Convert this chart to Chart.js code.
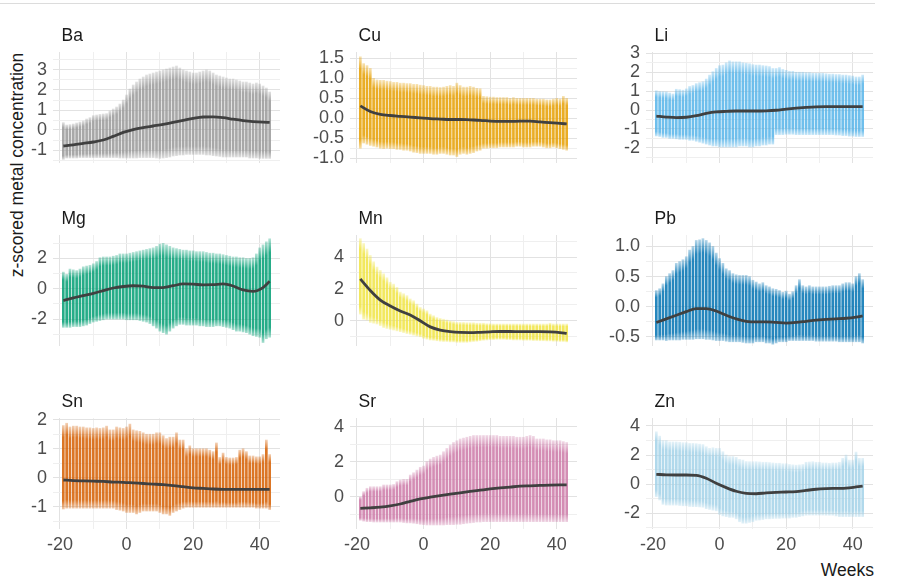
<!DOCTYPE html>
<html>
<head>
<meta charset="utf-8">
<script src="https://cdn.jsdelivr.net/npm/chart.js@4.4.1/dist/chart.umd.min.js"></script>
<style>
  body { margin: 0; background: #fff; width: 899px; height: 587px; position: relative; overflow: hidden;
         font-family: "Liberation Sans", Arial, sans-serif; }
  .rule { position: absolute; left: 0; top: 3px; width: 875px; height: 1px; background: #dcdcdc; }
  .panel { position: absolute; }
  .ttl { position: absolute; font-size: 17.5px; line-height: 17px; color: #1a1a1a; white-space: nowrap; }
  .ylab { position: absolute; left: -112.8px; top: 154.5px; width: 260px; height: 20px; line-height: 20px;
          text-align: center; font-size: 17.5px; color: #1a1a1a; transform: rotate(-90deg); white-space: nowrap; }
  .xlab { position: absolute; right: 25px; top: 561.6px; font-size: 17.5px; line-height: 17px; color: #1a1a1a; }
</style>
</head>
<body>
<div class="rule"></div>
<div class="ylab">z-scored metal concentration</div>
<div class="xlab">Weeks</div>
<script>
// weeks of each stripe (one vertical column of samples per week)
const weeks = [-19, -18, -17, -16, -15, -14, -13, -12, -11, -10,
  -9, -8, -7, -6, -5, -4, -3, -2, -1, 0,
  1, 2, 3, 4, 5, 6, 7, 8, 9, 10,
  11, 12, 13, 14, 15, 16, 17, 18, 19, 20,
  21, 22, 23, 24, 25, 26, 27, 28, 29, 30,
  31, 32, 33, 34, 35, 36, 37, 38, 39, 40,
  41, 42, 43];
// weeks where the smoothed trend is sampled
const lineWeeks = [-19, -16, -13, -10, -7, -4, -1, 2, 5, 8, 11, 14, 17, 20, 23, 26, 29, 32, 35, 38, 41, 43];

const metals = ['Ba', 'Cu', 'Li', 'Mg', 'Mn', 'Pb', 'Sn', 'Sr', 'Zn'];
const colors = ['#999999', '#E69F00', '#56B4E9', '#009E73', '#F0E442', '#0072B2', '#D55E00', '#CC79A7', '#a3d2e8'];

// per week extent of the samples (low / high) and the smoothed trend
const baLo = [-1.47, -1.4, -1.4, -1.4, -1.4, -1.38, -1.38, -1.38, -1.38, -1.38,
  -1.38, -1.38, -1.38, -1.38, -1.38, -1.38, -1.38, -1.4, -1.4, -1.4,
  -1.4, -1.4, -1.4, -1.38, -1.38, -1.38, -1.38, -1.38, -1.4, -1.42,
  -1.4, -1.38, -1.35, -1.3, -1.28, -1.25, -1.25, -1.22, -1.22, -1.22,
  -1.22, -1.22, -1.22, -1.25, -1.25, -1.28, -1.3, -1.32, -1.35, -1.35,
  -1.35, -1.35, -1.35, -1.35, -1.35, -1.35, -1.4, -1.4, -1.4, -1.42,
  -1.42, -1.42, -1.42];
const baHi = [0.37, 0.25, 0.27, 0.3, 0.35, 0.4, 0.45, 0.55, 0.62, 0.72,
  0.75, 0.78, 0.8, 0.82, 0.95, 1.05, 1.15, 1.3, 1.5, 1.75,
  2.05, 2.25, 2.4, 2.55, 2.65, 2.75, 2.8, 2.85, 2.9, 2.95,
  3.0, 3.05, 3.1, 3.15, 3.2, 3.1, 3.0, 2.95, 2.9, 2.85,
  2.85, 2.9, 2.95, 3.0, 2.95, 2.85, 2.75, 2.7, 2.65, 2.6,
  2.55, 2.55, 2.5, 2.45, 2.4, 2.4, 2.35, 2.3, 2.35, 2.3,
  2.2, 2.1, 1.9];
const baLine = [-0.8, -0.74, -0.67, -0.6, -0.5, -0.32, -0.12, 0.02, 0.12, 0.2, 0.28,
  0.38, 0.48, 0.58, 0.65, 0.66, 0.62, 0.54, 0.47, 0.42, 0.39, 0.38];

const cuLo = [-0.75, -0.62, -0.65, -0.68, -0.7, -0.72, -0.75, -0.76, -0.75, -0.76,
  -0.76, -0.78, -0.78, -0.8, -0.8, -0.82, -0.85, -0.86, -0.88, -0.88,
  -0.88, -0.88, -0.9, -0.9, -0.88, -0.88, -0.9, -0.92, -0.92, -0.96,
  -0.9, -0.88, -0.9, -0.88, -0.86, -0.82, -0.8, -0.75, -0.75, -0.74,
  -0.74, -0.74, -0.72, -0.72, -0.72, -0.72, -0.72, -0.7, -0.7, -0.72,
  -0.72, -0.72, -0.7, -0.7, -0.7, -0.72, -0.74, -0.74, -0.72, -0.74,
  -0.76, -0.78, -0.8];
const cuHi = [1.54, 1.37, 1.32, 1.25, 1.0, 0.96, 0.95, 0.95, 0.93, 0.92,
  0.9, 0.9, 0.88, 0.88, 0.87, 0.87, 0.85, 0.85, 0.83, 0.82,
  0.8, 0.8, 0.78, 0.78, 0.77, 0.78, 0.8, 0.82, 0.8, 0.88,
  0.82, 0.78, 0.78, 0.8, 0.78, 0.75, 0.74, 0.55, 0.54, 0.53,
  0.53, 0.52, 0.52, 0.52, 0.52, 0.5, 0.52, 0.5, 0.5, 0.5,
  0.5, 0.5, 0.5, 0.48, 0.48, 0.48, 0.46, 0.46, 0.48, 0.5,
  0.48, 0.55, 0.5];
const cuLine = [0.31, 0.17, 0.1, 0.07, 0.05, 0.03, 0.01, -0.01, -0.02, -0.03, -0.03,
  -0.04, -0.05, -0.07, -0.08, -0.08, -0.07, -0.07, -0.09, -0.11, -0.13, -0.14];

const liLo = [-1.37, -1.4, -1.45, -1.45, -1.5, -1.5, -1.52, -1.55, -1.55, -1.55,
  -1.6, -1.6, -1.65, -1.7, -1.75, -1.8, -1.85, -1.9, -1.9, -1.95,
  -1.95, -1.95, -1.95, -1.95, -1.95, -1.9, -1.9, -1.9, -1.95, -1.95,
  -1.9, -1.9, -1.85, -1.85, -1.8, -1.8, -1.3, -1.3, -1.3, -1.28,
  -1.28, -1.28, -1.3, -1.3, -1.3, -1.3, -1.3, -1.3, -1.3, -1.3,
  -1.3, -1.3, -1.3, -1.3, -1.32, -1.32, -1.35, -1.35, -1.38, -1.38,
  -1.4, -1.4, -1.4];
const liHi = [1.02, 0.98, 0.97, 0.96, 0.9, 0.85, 1.1, 1.08, 1.05, 1.12,
  1.25, 1.3, 1.4, 1.45, 1.5, 1.64, 1.85, 2.03, 2.2, 2.35,
  2.38, 2.5, 2.6, 2.55, 2.55, 2.55, 2.5, 2.48, 2.45, 2.4,
  2.38, 2.38, 2.35, 2.33, 2.3, 2.2, 2.2, 2.25, 2.15, 2.1,
  2.05, 2.05, 2.0, 2.0, 2.0, 1.98, 1.98, 1.95, 1.95, 1.95,
  1.95, 1.92, 1.9, 1.9, 1.88, 1.88, 1.85, 1.85, 1.82, 1.8,
  1.75, 1.75, 1.85];
const liLine = [-0.32, -0.37, -0.4, -0.38, -0.3, -0.18, -0.1, -0.07, -0.05, -0.05, -0.05,
  -0.04, -0.01, 0.05, 0.1, 0.14, 0.17, 0.18, 0.18, 0.18, 0.18, 0.18];

const mgLo = [-2.55, -2.55, -2.55, -2.5, -2.5, -2.5, -2.45, -2.4, -2.3, -2.2,
  -2.15, -2.1, -2.05, -2.0, -2.0, -2.0, -2.0, -2.0, -2.0, -2.05,
  -2.05, -2.05, -2.05, -2.1, -2.15, -2.2, -2.3, -2.45, -2.6, -2.8,
  -2.9, -3.0, -2.8, -2.6, -2.45, -2.35, -2.35, -2.4, -2.4, -2.4,
  -2.4, -2.45, -2.45, -2.5, -2.5, -2.5, -2.45, -2.45, -2.5, -2.55,
  -2.6, -2.7, -2.8, -2.8, -2.85, -2.9, -3.0, -3.1, -3.15, -3.2,
  -3.55, -3.3, -3.2];
const mgHi = [1.1, 0.95, 1.3, 1.25, 1.2, 1.3, 1.45, 1.5, 1.55, 1.65,
  1.8, 2.05, 2.1, 2.1, 2.1, 2.15, 2.2, 2.3, 2.3, 2.3,
  2.35, 2.4, 2.45, 2.5, 2.55, 2.6, 2.65, 2.7, 2.8, 2.95,
  3.0, 2.9, 2.8, 2.7, 2.65, 2.6, 2.55, 2.55, 2.5, 2.5,
  2.45, 2.45, 2.45, 2.4, 2.35, 2.35, 2.3, 2.3, 2.25, 2.2,
  2.15, 2.1, 2.1, 2.05, 2.05, 2.0, 2.0, 2.05, 2.3, 2.7,
  2.9, 3.1, 3.3];
const mgLine = [-0.78, -0.6, -0.45, -0.3, -0.12, 0.05, 0.15, 0.2, 0.17, 0.08, 0.08,
  0.2, 0.32, 0.3, 0.26, 0.27, 0.32, 0.18, -0.08, -0.17, 0.08, 0.49];

const mnLo = [0.42, 0.1, 0.05, -0.1, -0.15, -0.2, -0.3, -0.42, -0.48, -0.53,
  -0.58, -0.63, -0.68, -0.74, -0.8, -0.84, -0.9, -0.95, -1.0, -1.1,
  -1.15, -1.2, -1.22, -1.25, -1.28, -1.3, -1.3, -1.32, -1.32, -1.35,
  -1.35, -1.35, -1.35, -1.32, -1.3, -1.28, -1.25, -1.22, -1.2, -1.18,
  -1.18, -1.16, -1.16, -1.16, -1.18, -1.18, -1.2, -1.2, -1.2, -1.22,
  -1.22, -1.22, -1.24, -1.24, -1.25, -1.25, -1.26, -1.26, -1.28, -1.28,
  -1.3, -1.3, -1.32];
const mnHi = [5.15, 4.85, 4.5, 4.1, 3.7, 3.37, 3.16, 2.95, 2.7, 2.42,
  2.3, 2.1, 1.8, 1.7, 1.58, 1.37, 1.26, 1.05, 0.84, 0.74,
  0.63, 0.42, 0.32, 0.21, 0.15, 0.1, 0.05, 0.0, -0.05, -0.1,
  -0.1, -0.1, -0.12, -0.12, -0.12, -0.15, -0.15, -0.15, -0.18, -0.18,
  -0.2, -0.2, -0.2, -0.2, -0.2, -0.2, -0.2, -0.2, -0.2, -0.2,
  -0.2, -0.2, -0.2, -0.2, -0.2, -0.2, -0.2, -0.15, -0.2, -0.2,
  -0.2, -0.2, -0.2];
const mnLine = [2.63, 1.9, 1.3, 0.93, 0.62, 0.36, 0.0, -0.38, -0.58, -0.68, -0.73,
  -0.74, -0.72, -0.69, -0.67, -0.67, -0.68, -0.68, -0.68, -0.7, -0.74, -0.79];

const pbLo = [-0.55, -0.55, -0.55, -0.56, -0.55, -0.55, -0.55, -0.55, -0.54, -0.54,
  -0.54, -0.54, -0.53, -0.53, -0.53, -0.54, -0.54, -0.55, -0.56, -0.56,
  -0.56, -0.57, -0.58, -0.58, -0.58, -0.58, -0.59, -0.6, -0.6, -0.6,
  -0.58, -0.58, -0.58, -0.6, -0.6, -0.62, -0.6, -0.58, -0.58, -0.58,
  -0.56, -0.56, -0.56, -0.56, -0.56, -0.56, -0.56, -0.56, -0.57, -0.57,
  -0.57, -0.57, -0.57, -0.57, -0.57, -0.58, -0.58, -0.58, -0.58, -0.58,
  -0.58, -0.58, -0.6];
const pbHi = [0.27, 0.3, 0.38, 0.5, 0.55, 0.6, 0.72, 0.75, 0.78, 0.83,
  0.94, 1.0, 1.1, 1.11, 1.13, 1.1, 1.06, 1.0, 0.89, 0.8,
  0.72, 0.63, 0.6, 0.55, 0.53, 0.52, 0.52, 0.52, 0.5, 0.44,
  0.41, 0.38, 0.4, 0.35, 0.33, 0.3, 0.29, 0.27, 0.24, 0.26,
  0.21, 0.25, 0.35, 0.45, 0.35, 0.33, 0.35, 0.33, 0.33, 0.33,
  0.33, 0.33, 0.34, 0.35, 0.35, 0.35, 0.38, 0.4, 0.4, 0.38,
  0.5, 0.55, 0.45];
const pbLine = [-0.26, -0.2, -0.14, -0.08, -0.03, -0.03, -0.07, -0.14, -0.2, -0.24, -0.25,
  -0.25, -0.26, -0.27, -0.26, -0.24, -0.22, -0.21, -0.2, -0.19, -0.17, -0.15];

const snLo = [-1.08, -1.05, -1.05, -1.05, -1.05, -1.05, -1.05, -1.05, -1.05, -1.05,
  -1.05, -1.05, -1.05, -1.05, -1.05, -1.05, -1.1, -1.12, -1.15, -1.2,
  -1.2, -1.2, -1.25, -1.2, -1.15, -1.15, -1.15, -1.15, -1.15, -1.2,
  -1.25, -1.25, -1.3, -1.2, -1.15, -1.1, -1.05, -1.02, -1.02, -1.02,
  -1.02, -1.02, -1.02, -1.02, -1.02, -1.02, -1.02, -1.02, -1.02, -1.02,
  -1.02, -1.02, -1.02, -1.02, -1.02, -1.02, -1.02, -1.02, -1.05, -1.05,
  -1.05, -1.05, -1.1];
const snHi = [1.8, 1.88, 1.75, 1.78, 1.78, 1.75, 1.75, 1.72, 1.72, 1.7,
  1.72, 1.7, 1.72, 1.78, 1.65, 1.65, 1.75, 1.72, 1.7, 1.75,
  1.85, 1.65, 1.62, 1.6, 1.55, 1.5, 1.5, 1.5, 1.55, 1.55,
  1.45, 1.35, 1.4, 1.4, 1.55, 1.3, 1.3, 1.0, 1.1, 1.0,
  1.0, 1.0, 1.0, 1.0, 0.95, 0.9, 1.2, 0.7, 0.85, 0.7,
  0.68, 0.68, 0.7, 0.95, 1.0, 0.9, 0.75, 0.75, 0.72, 0.72,
  0.8, 1.3, 0.8];
const snLine = [-0.08, -0.1, -0.11, -0.12, -0.13, -0.15, -0.16, -0.18, -0.2, -0.22, -0.24,
  -0.27, -0.31, -0.35, -0.37, -0.39, -0.4, -0.4, -0.4, -0.4, -0.4, -0.4];

const srLo = [-1.35, -1.4, -1.43, -1.43, -1.45, -1.45, -1.45, -1.45, -1.45, -1.45,
  -1.45, -1.45, -1.45, -1.48, -1.5, -1.5, -1.52, -1.55, -1.58, -1.6,
  -1.62, -1.62, -1.62, -1.62, -1.62, -1.62, -1.6, -1.6, -1.6, -1.58,
  -1.58, -1.55, -1.52, -1.5, -1.48, -1.45, -1.45, -1.43, -1.43, -1.43,
  -1.43, -1.43, -1.43, -1.43, -1.43, -1.43, -1.43, -1.43, -1.43, -1.43,
  -1.43, -1.43, -1.43, -1.43, -1.43, -1.43, -1.43, -1.43, -1.43, -1.43,
  -1.43, -1.43, -1.43];
const srHi = [0.0, 0.29, 0.48, 0.57, 0.57, 0.57, 0.57, 0.67, 0.67, 0.67,
  0.7, 0.86, 0.95, 0.99, 0.99, 1.24, 1.37, 1.52, 1.68, 1.75,
  2.0, 2.15, 2.25, 2.32, 2.38, 2.57, 2.76, 2.95, 3.1, 3.2,
  3.3, 3.35, 3.4, 3.45, 3.5, 3.5, 3.5, 3.5, 3.5, 3.5,
  3.5, 3.5, 3.45, 3.45, 3.45, 3.45, 3.45, 3.4, 3.4, 3.4,
  3.45, 3.5, 3.45, 3.3, 3.3, 3.3, 3.25, 3.25, 3.2, 3.2,
  3.2, 3.15, 3.1];
const srLine = [-0.67, -0.64, -0.6, -0.53, -0.42, -0.27, -0.13, -0.03, 0.06, 0.14, 0.22,
  0.3, 0.37, 0.44, 0.5, 0.55, 0.6, 0.62, 0.64, 0.66, 0.67, 0.67];

const znLo = [-0.87, -1.1, -1.4, -1.45, -1.45, -1.45, -1.45, -1.48, -1.5, -1.5,
  -1.55, -1.56, -1.56, -1.58, -1.6, -1.7, -1.75, -1.8, -1.85, -2.1,
  -2.2, -2.25, -2.3, -2.3, -2.4, -2.6, -2.7, -2.7, -2.65, -2.6,
  -2.5, -2.48, -2.45, -2.4, -2.4, -2.38, -2.37, -2.37, -2.35, -2.35,
  -2.35, -2.3, -2.3, -2.25, -2.2, -2.15, -2.14, -2.14, -2.14, -2.14,
  -2.14, -2.15, -2.15, -2.15, -2.2, -2.25, -2.25, -2.25, -2.25, -2.25,
  -2.25, -2.25, -2.25];
const znHi = [3.6, 3.3, 3.0, 3.0, 2.9, 2.9, 2.9, 2.88, 2.85, 2.85,
  2.8, 2.8, 2.78, 2.75, 2.72, 2.57, 2.46, 2.5, 2.46, 2.46,
  2.23, 2.0, 1.9, 1.9, 1.84, 1.7, 1.65, 1.55, 1.54, 1.54,
  1.54, 1.52, 1.5, 1.5, 1.48, 1.45, 1.43, 1.43, 1.4, 1.4,
  1.35, 1.32, 1.3, 1.32, 1.35, 1.5, 1.52, 1.54, 1.5, 1.5,
  1.45, 1.45, 1.43, 1.45, 1.45, 1.5, 1.77, 2.0, 1.65, 1.65,
  2.2, 1.77, 1.77];
const znLine = [0.67, 0.63, 0.62, 0.62, 0.6, 0.4, 0.05, -0.25, -0.5, -0.64, -0.67,
  -0.61, -0.57, -0.55, -0.52, -0.44, -0.36, -0.32, -0.3, -0.28, -0.2, -0.14];

const loSets = [baLo, cuLo, liLo, mgLo, mnLo, pbLo, snLo, srLo, znLo];
const hiSets = [baHi, cuHi, liHi, mgHi, mnHi, pbHi, snHi, srHi, znHi];
const lineSets = [baLine, cuLine, liLine, mgLine, mnLine, pbLine, snLine, srLine, znLine];

// axis limits and tick labels
const yMin = [-1.65, -1.12, -2.8, -3.78, -1.58, -0.65, -1.77, -1.85, -3.1];
const yMax = [3.9, 1.66, 3.07, 3.55, 5.38, 1.19, 2.06, 4.5, 4.55];
const yMajor = [[-1, 0, 1, 2, 3], [-1, -0.5, 0, 0.5, 1, 1.5], [-2, -1, 0, 1, 2, 3],
  [-2, 0, 2], [0, 2, 4], [-0.5, 0, 0.5, 1], [-1, 0, 1, 2], [0, 2, 4], [-2, 0, 2, 4]];
const yMinor = [[-1.5, -0.5, 0.5, 1.5, 2.5, 3.5], [-0.75, -0.25, 0.25, 0.75, 1.25],
  [-2.5, -1.5, -0.5, 0.5, 1.5, 2.5], [-3, -1, 1, 3], [-1, 1, 3, 5], [-0.25, 0.25, 0.75],
  [-1.5, -0.5, 0.5, 1.5], [-1, 1, 3], [-3, -1, 1, 3]];
const yDecimals = [0, 1, 0, 0, 0, 1, 0, 0, 0];
const xMajor = [-20, 0, 20, 40];
const xMinor = [-10, 10, 30];

const plotLeft = [53, 350, 646];
const plotTop = [52, 235, 418];
const plotW = 227, plotH = 111, yAxisW = 50, padTop = 12;
const FONT = '"Liberation Sans", Arial, sans-serif';

function rgba(hex, a) {
  const n = parseInt(hex.slice(1), 16);
  return `rgba(${(n >> 16) & 255},${(n >> 8) & 255},${n & 255},${a})`;
}

function gridColor(majors) {
  return (c) => majors.includes(c.tick.value) ? '#e2e2e2' : '#efefef';
}

metals.forEach((name, i) => {
  const col = i % 3, row = Math.floor(i / 3);
  const bottomRow = row === 2;
  const xAxisH = bottomRow ? 30 : 0;
  const padBottom = bottomRow ? 0 : 12;

  const wrap = document.createElement('div');
  wrap.className = 'panel';
  wrap.style.left = (plotLeft[col] - yAxisW) + 'px';
  wrap.style.top = (plotTop[row] - padTop) + 'px';
  const canvas = document.createElement('canvas');
  canvas.width = yAxisW + plotW;
  canvas.height = padTop + plotH + xAxisH + padBottom;
  wrap.appendChild(canvas);
  document.body.appendChild(wrap);

  const title = document.createElement('div');
  title.className = 'ttl';
  title.textContent = name;
  title.style.left = (plotLeft[col] + 8.5) + 'px';
  title.style.top = (plotTop[row] - 25.5) + 'px';
  document.body.appendChild(title);

  const color = colors[i];
  const lo = loSets[i], hi = hiSets[i], trend = lineSets[i];
  const yTicksAll = yMajor[i].concat(yMinor[i]).sort((a, b) => a - b);
  const xTicksAll = xMajor.concat(xMinor).sort((a, b) => a - b);

  new Chart(canvas, {
    type: 'bar',
    data: {
      datasets: [
        {
          type: 'line',
          data: lineWeeks.map((w, k) => ({ x: w, y: trend[k] })),
          borderColor: '#404040',
          borderWidth: 2.8,
          pointRadius: 0,
          cubicInterpolationMode: 'monotone',
          order: 0
        },
        {
          type: 'bar',
          data: weeks.map((w, k) => ({ x: w, y: [lo[k], hi[k]] })),
          barThickness: 2,
          borderWidth: 0,
          order: 1,
          backgroundColor: (c) => {
            const chart = c.chart;
            if (c.type !== 'data' || !chart.chartArea || !c.raw) return rgba(color, 0.85);
            const ys = chart.scales.y;
            const top = ys.getPixelForValue(c.raw.y[1]);
            const bot = ys.getPixelForValue(c.raw.y[0]);
            if (!isFinite(top) || !isFinite(bot) || bot - top < 1) return rgba(color, 0.85);
            const g = chart.ctx.createLinearGradient(0, top, 0, bot);
            g.addColorStop(0, rgba(color, 0.3));
            g.addColorStop(0.14, rgba(color, 0.85));
            g.addColorStop(0.9, rgba(color, 0.85));
            g.addColorStop(1, rgba(color, 0.35));
            return g;
          }
        }
      ]
    },
    options: {
      responsive: false,
      animation: false,
      devicePixelRatio: 1,
      layout: { padding: { left: 0, right: 0, top: padTop, bottom: padBottom } },
      plugins: { legend: { display: false }, tooltip: { enabled: false } },
      scales: {
        x: {
          type: 'linear',
          min: -22.1,
          max: 46.1,
          offset: false,
          border: { display: false },
          grid: { offset: false, drawTicks: false, color: gridColor(xMajor), lineWidth: 1 },
          ticks: {
            display: bottomRow,
            autoSkip: false,
            maxRotation: 0,
            padding: 5,
            color: '#4d4d4d',
            font: { family: FONT, size: 18 },
            callback: (v) => xMajor.includes(v) ? String(v) : ''
          },
          afterBuildTicks: (s) => { s.ticks = xTicksAll.map(v => ({ value: v })); },
          afterFit: (s) => { s.height = xAxisH; s.paddingLeft = 0; s.paddingRight = 0; }
        },
        y: {
          min: yMin[i],
          max: yMax[i],
          border: { display: false },
          grid: { drawTicks: false, color: gridColor(yMajor[i]), lineWidth: 1 },
          ticks: {
            autoSkip: false,
            padding: 6,
            color: '#4d4d4d',
            font: { family: FONT, size: 18 },
            callback: (v) => yMajor[i].includes(v) ? v.toFixed(yDecimals[i]) : ''
          },
          afterBuildTicks: (s) => { s.ticks = yTicksAll.map(v => ({ value: v })); },
          afterFit: (s) => { s.width = yAxisW; s.paddingTop = 0; s.paddingBottom = 0; }
        }
      }
    }
  });
});
</script>
</body>
</html>
